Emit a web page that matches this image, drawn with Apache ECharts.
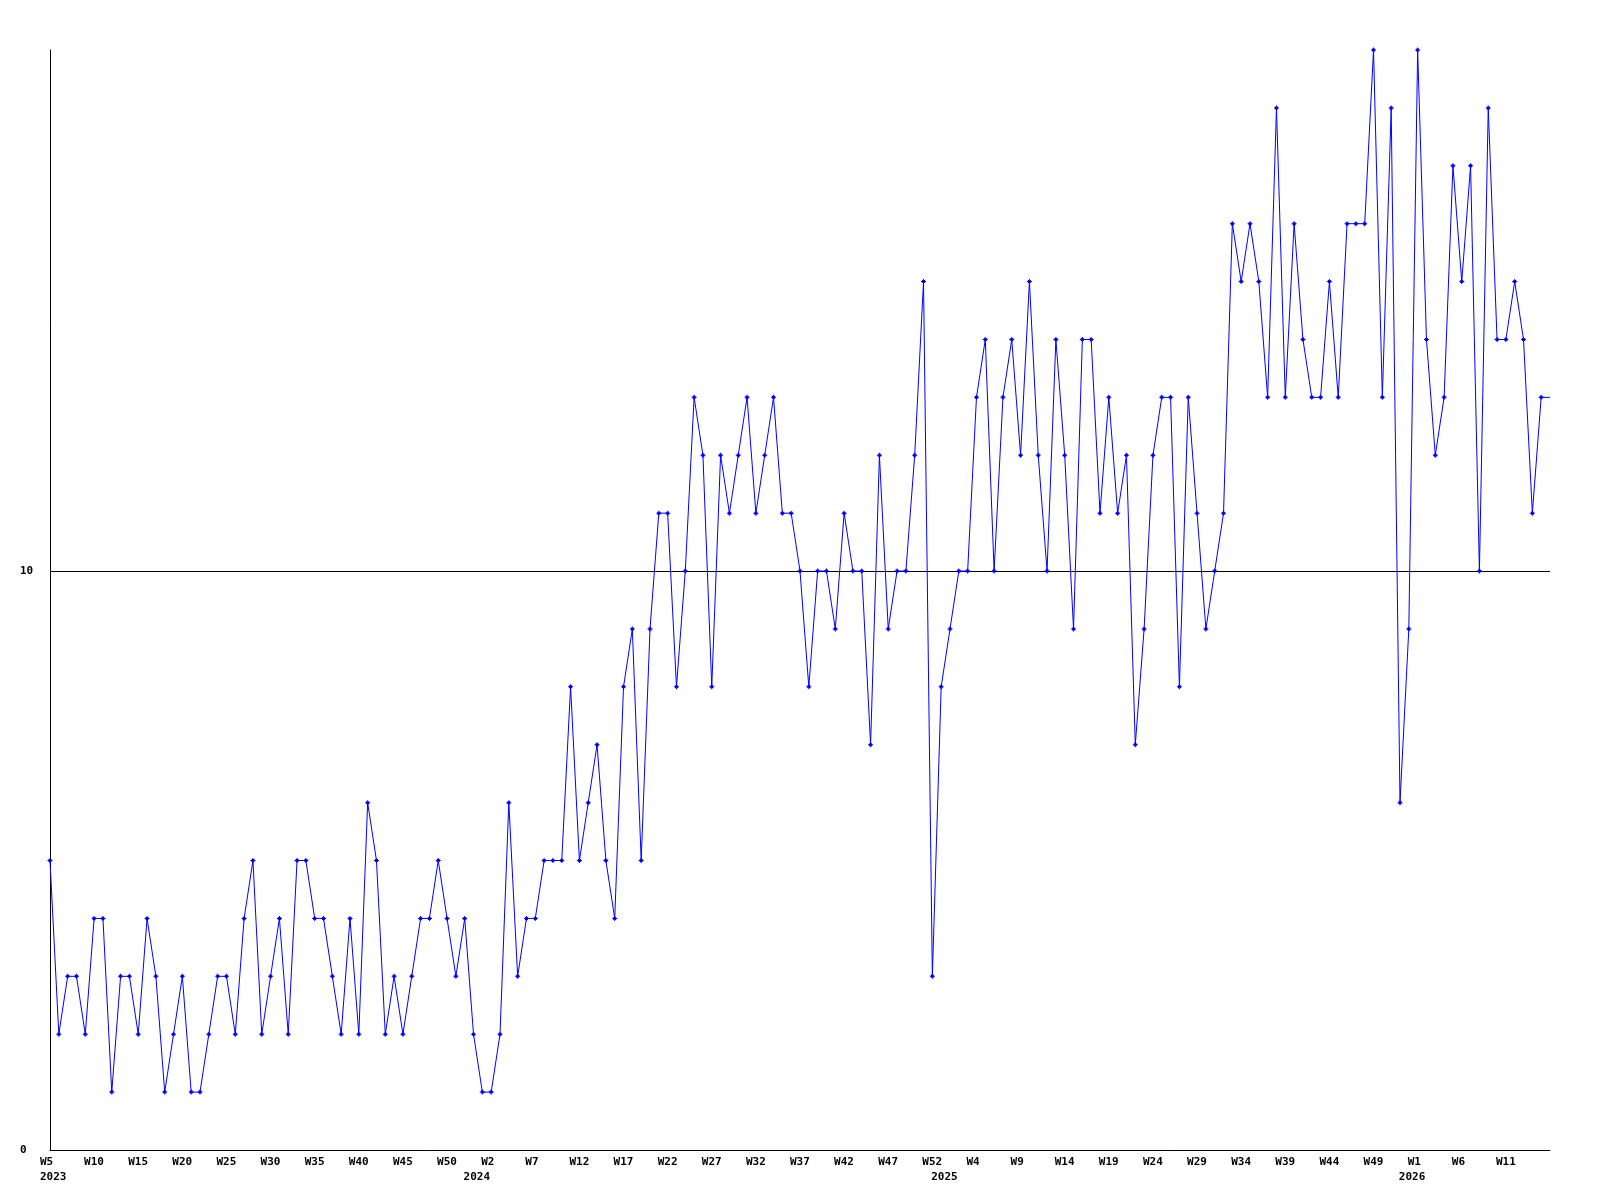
<!DOCTYPE html>
<html><head><meta charset="utf-8">
<script src="https://cdn.jsdelivr.net/npm/echarts@6/dist/echarts.min.js"></script>
<style>html,body{margin:0;padding:0;background:#fff}#c{width:1600px;height:1200px}</style>
</head><body><div id="c"></div>
<script>
// Week ranges per year (category axis)
const yearList = [2023, 2024, 2025, 2026];
const firstWeeks = [5, 0, 0, 0];
const lastWeeks = [52, 52, 52, 16];

// Weekly values (last entry = value carried to the right edge)
const values = [
  5, 2, 3, 3, 2, 4, 4, 1, 3, 3,
  2, 4, 3, 1, 2, 3, 1, 1, 2, 3,
  3, 2, 4, 5, 2, 3, 4, 2, 5, 5,
  4, 4, 3, 2, 4, 2, 6, 5, 2, 3,
  2, 3, 4, 4, 5, 4, 3, 4, 2, 1,
  1, 2, 6, 3, 4, 4, 5, 5, 5, 8,
  5, 6, 7, 5, 4, 8, 9, 5, 9, 11,
  11, 8, 10, 13, 12, 8, 12, 11, 12, 13,
  11, 12, 13, 11, 11, 10, 8, 10, 10, 9,
  11, 10, 10, 7, 12, 9, 10, 10, 12, 15,
  3, 8, 9, 10, 10, 13, 14, 10, 13, 14,
  12, 15, 12, 10, 14, 12, 9, 14, 14, 11,
  13, 11, 12, 7, 9, 12, 13, 13, 8, 13,
  11, 9, 10, 11, 16, 15, 16, 15, 13, 18,
  13, 16, 14, 13, 13, 15, 13, 16, 16, 16,
  19, 13, 18, 6, 9, 19, 14, 12, 13, 17,
  15, 17, 10, 18, 14, 14, 15, 14, 11, 13,
  13
];

const yMin = 0, yMax = 19, yStep = 10;
const refLine = 10;

const categories = [];
const yearAt = {};
yearList.forEach((y, k) => {
  yearAt[categories.length] = String(y);
  for (let w = firstWeeks[k]; w <= lastWeeks[k]; w++) categories.push('W' + w);
});
const lastIdx = categories.length - 1;

const font = { fontFamily: 'DejaVu Sans Mono', fontWeight: 'bold', fontSize: 11, color: '#000' };

const chart = echarts.init(document.getElementById('c'), null, { renderer: 'canvas' });
chart.setOption({
  animation: false,
  backgroundColor: '#fff',
  grid: [
    { left: 50, right: 50, top: 50, bottom: 50 },
    { left: 40, right: 60, top: 50, bottom: 50 }
  ],
  xAxis: [
    {
      gridIndex: 0, type: 'category', data: categories, boundaryGap: false,
      axisLine: { show: true, lineStyle: { color: '#000', width: 1 } },
      axisTick: { show: false }, axisLabel: { show: false }, splitLine: { show: false }
    },
    {
      gridIndex: 1, type: 'category', data: categories, boundaryGap: false,
      axisLine: { show: false }, axisTick: { show: false }, splitLine: { show: false },
      axisLabel: Object.assign({
        align: 'left', verticalAlign: 'top', margin: 5, lineHeight: 15,
        interval: (idx) => (idx % 5 === 0 && idx < lastIdx) || yearAt[idx] !== undefined,
        formatter: (val, idx) => ((idx % 5 === 0 && idx < lastIdx) ? val : '') + '\n' + (yearAt[idx] || '')
      }, font)
    }
  ],
  yAxis: [
    {
      gridIndex: 0, type: 'value', min: yMin, max: yMax, interval: yStep,
      axisLine: { show: true, lineStyle: { color: '#000', width: 1 } },
      axisTick: { show: false }, splitLine: { show: false },
      axisLabel: Object.assign({
        align: 'left', verticalAlign: 'middle', margin: 30,
        formatter: (v) => (v % yStep === 0 ? String(v) : '')
      }, font)
    },
    { gridIndex: 1, type: 'value', min: yMin, max: yMax, show: false }
  ],
  series: [{
    type: 'line',
    xAxisIndex: 0, yAxisIndex: 0,
    data: values.map((v, i) => i === lastIdx ? { value: v, symbol: 'none' } : v),
    symbol: 'path://M2,0H3V1H4V2H5V3H4V4H3V5H2V4H1V3H0V2H1V1H2Z',
    symbolSize: 5,
    showAllSymbol: true,
    clip: false,
    lineStyle: { color: '#0000ff', width: 1 },
    itemStyle: { color: '#0000ff' },
    emphasis: { disabled: true },
    z: 3,
    markLine: {
      silent: true, symbol: ['none', 'none'], label: { show: false },
      lineStyle: { color: '#000', width: 1, type: 'solid' },
      emphasis: { disabled: true },
      data: [{ yAxis: refLine }],
      z: 1
    }
  }]
});
</script>
</body></html>
